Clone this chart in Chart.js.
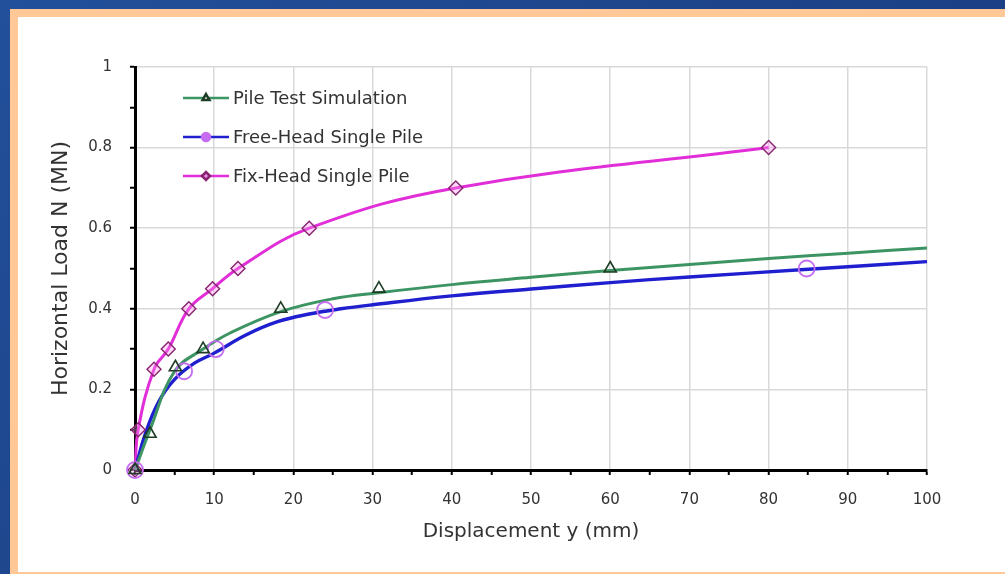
<!DOCTYPE html>
<html>
<head>
<meta charset="utf-8">
<script src="https://cdn.jsdelivr.net/npm/chart.js@4.4.1/dist/chart.umd.min.js"></script>
<style>
  html, body { margin: 0; padding: 0; }
  body {
    width: 1005px; height: 574px; position: relative; overflow: hidden;
    background: linear-gradient(135deg, #22509a 0%, #1c4288 55%, #163679 100%);
  }
  #frame {
    position: absolute; left: 10px; top: 9px; width: 995px; height: 565px;
    background: #ffc896;
  }
  #paper {
    position: absolute; left: 18px; top: 17px; width: 987px; height: 555px;
    background: #ffffff;
  }
  #wrap { position: absolute; left: 0; top: 0; width: 1005px; height: 574px; }
</style>
</head>
<body>
<div id="frame"></div>
<div id="paper"></div>
<div id="wrap"><canvas id="chart" width="1005" height="574"></canvas></div>
<script>
// ── Data ──────────────────────────────────────────────────
const seriesNames = ["Pile Test Simulation", "Free-Head Single Pile", "Fix-Head Single Pile"];

// smooth curves
const pileCurveX = [0, 1.9, 5, 8.6, 12, 18.4, 25, 30.8, 40, 50, 60, 70, 80, 90, 100];
const pileCurveY = [0, 0.1, 0.245, 0.3, 0.34, 0.393, 0.425, 0.44, 0.46, 0.478, 0.495, 0.51, 0.525, 0.538, 0.551];
const freeCurveX = [0, 1.3, 3, 5, 7.5, 10, 14, 18, 22, 26, 30, 40, 50, 60, 70, 85, 100];
const freeCurveY = [0, 0.09, 0.17, 0.225, 0.265, 0.29, 0.335, 0.368, 0.387, 0.4, 0.41, 0.432, 0.449, 0.465, 0.479, 0.498, 0.517];
const fixCurveX = [0, 0.4, 2.4, 4.2, 6.8, 9.8, 13, 22, 40.5, 80];
const fixCurveY = [0, 0.1, 0.25, 0.3, 0.4, 0.45, 0.5, 0.6, 0.7, 0.8];

// markers
const pileMarkX = [0, 1.9, 5.1, 8.6, 18.4, 30.8, 60];
const pileMarkY = [0, 0.09, 0.255, 0.3, 0.4, 0.45, 0.5];
const freeMarkX = [0, 6.2, 10.2, 24, 84.8];
const freeMarkY = [0, 0.245, 0.3, 0.397, 0.5];
const fixMarkX = fixCurveX;
const fixMarkY = fixCurveY;

const xTicks = [0, 10, 20, 30, 40, 50, 60, 70, 80, 90, 100];
const yTicks = [0, 0.2, 0.4, 0.6, 0.8, 1];

// ── Styles ────────────────────────────────────────────────
const GREEN = "#3d9463";
const BLUE = "#1f1fcf";
const MAGENTA = "#e12ed8";
const FONT = "'DejaVu Sans', Verdana, sans-serif";
const TEXT = "#333333";

const toPts = (xs, ys) => xs.map((x, i) => ({ x, y: ys[i] }));

const markerStyles = [
  { pointStyle: "triangle", radius: 7, border: "#1f3d26", fill: "rgba(255,255,255,0)", width: 1.6 },
  { pointStyle: "circle", radius: 8, border: "#c56cf0", fill: "rgba(255,255,255,0)", width: 1.8 },
  { pointStyle: "rectRot", radius: 7, border: "#86246e", fill: "rgba(255,150,240,0.35)", width: 1.4 },
];
const lineColors = [GREEN, BLUE, MAGENTA];
const lineWidths = [3, 3.4, 3];

function curveDataset(i, pts) {
  return {
    data: pts,
    showLine: true,
    borderColor: lineColors[i],
    borderWidth: lineWidths[i],
    pointRadius: 0,
    fill: false,
    tension: 0.4,
    clip: false,
    order: 2,
  };
}

function markerDataset(i, pts) {
  const m = markerStyles[i];
  return {
    data: pts,
    showLine: false,
    pointStyle: m.pointStyle,
    pointRadius: m.radius,
    pointBorderColor: m.border,
    pointBackgroundColor: m.fill,
    pointBorderWidth: m.width,
    clip: false,
    order: 1,
  };
}

// ── Legend drawn inside the plot (line + marker + label) ──
const insideLegend = {
  id: "insideLegend",
  afterDraw(chart) {
    const { ctx } = chart;
    const rowsY = [98, 137, 176];
    ctx.save();
    seriesNames.forEach((name, i) => {
      const y = rowsY[i];
      ctx.strokeStyle = lineColors[i];
      ctx.lineWidth = 2.5;
      ctx.beginPath();
      ctx.moveTo(183, y);
      ctx.lineTo(229, y);
      ctx.stroke();
      const m = markerStyles[i];
      ctx.fillStyle = i === 1 ? "#c56cf0" : (i === 0 ? "#ffffff" : "#e88ee0");
      ctx.strokeStyle = m.border;
      Chart.helpers.drawPoint(ctx, { pointStyle: m.pointStyle, radius: 4, borderWidth: 1.3, rotation: 0 }, 206, y);
      ctx.fillStyle = TEXT;
      ctx.font = "18px " + FONT;
      ctx.textBaseline = "middle";
      ctx.textAlign = "left";
      ctx.fillText(name, 233, y + 1);
    });
    ctx.restore();
  },
};

new Chart(document.getElementById("chart"), {
  type: "scatter",
  data: {
    datasets: [
      curveDataset(0, toPts(pileCurveX, pileCurveY)),
      curveDataset(1, toPts(freeCurveX, freeCurveY)),
      curveDataset(2, toPts(fixCurveX, fixCurveY)),
      markerDataset(0, toPts(pileMarkX, pileMarkY)),
      markerDataset(1, toPts(freeMarkX, freeMarkY)),
      markerDataset(2, toPts(fixMarkX, fixMarkY)),
    ],
  },
  options: {
    responsive: false,
    animation: false,
    layout: { padding: { left: 40, right: 78, top: 67, bottom: 30 } },
    plugins: {
      legend: { display: false },
      tooltip: { enabled: false },
    },
    scales: {
      x: {
        type: "linear",
        min: 0,
        max: 100,
        afterFit: (s) => { s.height = 74; },
        afterBuildTicks: (s) => {
          s.ticks = [];
          for (let v = 0; v <= 100; v += 5) s.ticks.push({ value: v });
        },
        ticks: {
          autoSkip: false,
          maxRotation: 0,
          padding: 16,
          color: TEXT,
          font: { family: FONT, size: 15 },
          callback: (v) => (xTicks.includes(v) ? String(v) : ""),
        },
        grid: {
          color: (c) => (c.tick && c.tick.value % 10 === 0 ? "#d9d9d9" : "rgba(0,0,0,0)"),
          lineWidth: 1.5,
          tickColor: "#000",
          tickLength: 5,
          tickWidth: 2,
        },
        border: { color: "#000", width: 3 },
        title: {
          display: true,
          text: "Displacement y (mm)",
          color: TEXT,
          font: { family: FONT, size: 20 },
          padding: { top: 0, bottom: 0 },
        },
      },
      y: {
        type: "linear",
        min: 0,
        max: 1,
        afterFit: (s) => { s.width = 95; },
        afterBuildTicks: (s) => {
          s.ticks = [];
          for (let k = 0; k <= 10; k++) s.ticks.push({ value: k / 10 });
        },
        ticks: {
          autoSkip: false,
          padding: 18,
          color: TEXT,
          font: { family: FONT, size: 15 },
          callback: (v) => {
            const r = Math.round(v * 10) / 10;
            return yTicks.includes(r) ? String(r) : "";
          },
        },
        grid: {
          color: (c) => (c.tick && Math.round(c.tick.value * 10) % 2 === 0 ? "#d9d9d9" : "rgba(0,0,0,0)"),
          lineWidth: 1.5,
          tickColor: "#000",
          tickLength: 5,
          tickWidth: 2,
        },
        border: { color: "#000", width: 3 },
        title: {
          display: true,
          text: "Horizontal Load N (MN)",
          color: TEXT,
          font: { family: FONT, size: 22 },
          padding: { top: 8, bottom: 0 },
        },
      },
    },
  },
  plugins: [insideLegend],
});
</script>
</body>
</html>
